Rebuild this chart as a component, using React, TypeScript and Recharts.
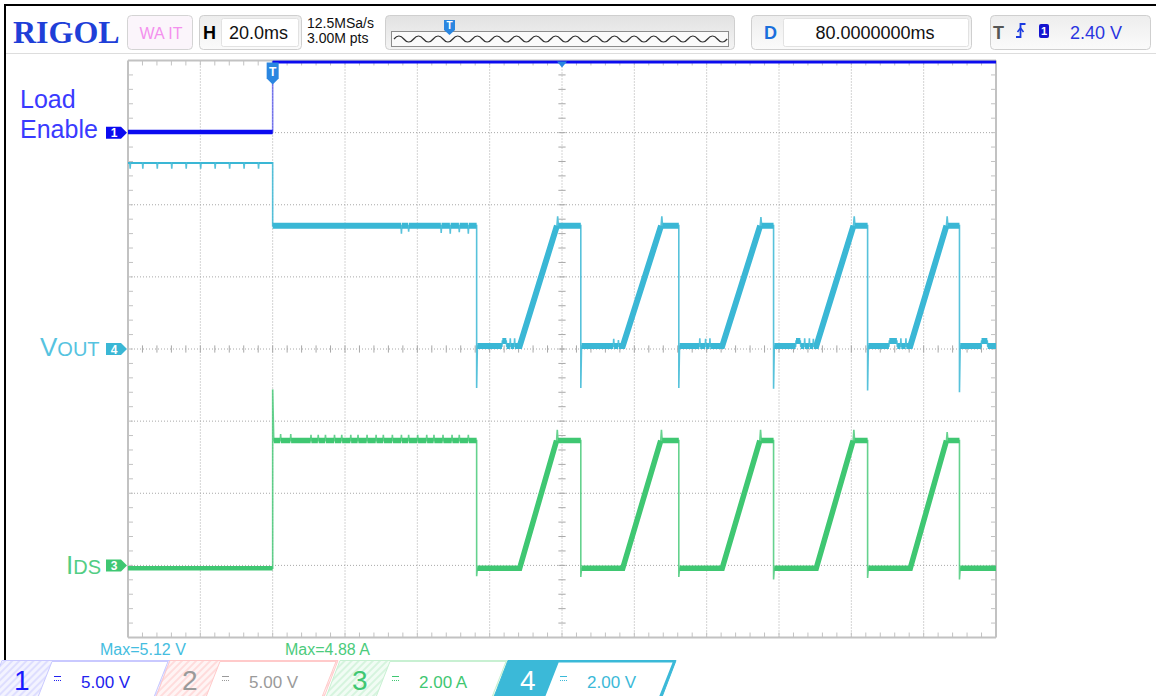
import React from 'react';
import { LineChart, Line, XAxis, YAxis, ReferenceLine, ReferenceDot } from 'recharts';

type Pt = [number, number];

// horizontal: ms from the trigger, 20 ms/div, 12 divisions
const timeDivs = [-40, -20, 0, 20, 40, 60, 80, 100, 120, 140, 160, 180, 200];
// vertical: screen divisions
const screenDivs = [-4, -3, -2, -1, 0, 1, 2, 3, 4];

// CH1 Load Enable, volts (5 V/div)
const loadEnable: Pt[] = [[-40, 0.05], [0, 0.05], [0, 4.9], [200, 4.9]];

// CH4 Vout, volts (2 V/div)
const vout: Pt[] = [
  [-40, 5.16],
  [-39.5, 5.16], [-39.4, 5.0], [-39.3, 5.16],
  [-36, 5.16], [-35.9, 5.0], [-35.8, 5.16],
  [-32, 5.16], [-31.9, 5.0], [-31.8, 5.16],
  [-28, 5.16], [-27.9, 5.0], [-27.8, 5.16],
  [-24, 5.16], [-23.9, 5.0], [-23.8, 5.16],
  [-20, 5.16], [-19.9, 5.0], [-19.8, 5.16],
  [-16, 5.16], [-15.9, 5.0], [-15.8, 5.16],
  [-12, 5.16], [-11.9, 5.0], [-11.8, 5.16],
  [-8, 5.16], [-7.9, 5.0], [-7.8, 5.16],
  [-4, 5.16], [-3.9, 5.0], [-3.8, 5.16],
  [0, 5.16], [0, 3.42],
  [35.5, 3.42], [35.6, 3.2], [35.7, 3.42],
  [37.5, 3.42], [37.6, 3.25], [37.7, 3.42],
  [46.5, 3.42], [46.6, 3.22], [46.7, 3.42],
  [49, 3.42], [49.1, 3.2], [49.2, 3.42],
  [51.5, 3.42], [51.6, 3.24], [51.7, 3.42],
  [54, 3.42], [54.1, 3.2], [54.2, 3.42],
  [56.4, 3.42], [56.4, -1.08], [56.6, 0.08],
  [63.4, 0.08], [63.5, 0.22], [64.6, 0.22], [64.7, 0.08],
  [65.6, 0.08], [65.7, 0.3], [65.8, 0.08],
  [66.8, 0.08], [66.9, 0.3], [67, 0.08],
  [68.3, 0.08], [78.6, 3.42], [78.8, 3.68], [79, 3.42],
  [85.2, 3.42], [85.2, -1.08], [85.4, 0.08],
  [94.2, 0.08], [94.3, 0.28], [94.4, 0.08],
  [95.5, 0.08], [95.6, 0.25], [95.7, 0.08],
  [96.8, 0.08], [107.4, 3.42], [107.6, 3.68], [107.8, 3.42],
  [112.3, 3.42], [112.3, -1.08], [112.5, 0.08],
  [118, 0.08], [118.1, 0.3], [118.2, 0.08],
  [119.6, 0.08], [119.7, 0.28], [119.8, 0.08],
  [120.8, 0.08], [120.9, 0.3], [121, 0.08],
  [124.3, 0.08], [134.8, 3.42], [135, 3.66], [135.2, 3.42],
  [138.5, 3.42], [138.5, -1.1], [138.7, 0.08],
  [144.6, 0.08], [144.7, 0.22], [145.9, 0.22], [146, 0.08],
  [147, 0.08], [147.1, 0.3], [147.2, 0.08],
  [148.3, 0.08], [148.4, 0.3], [148.5, 0.08],
  [149.4, 0.08], [149.5, 0.28], [149.6, 0.08],
  [150.3, 0.08], [160.6, 3.42], [160.8, 3.68], [161, 3.42],
  [164.5, 3.42], [164.5, -1.15], [164.7, 0.08],
  [170.4, 0.08], [170.5, 0.22], [172.6, 0.22], [172.7, 0.08],
  [173.6, 0.08], [173.7, 0.3], [173.8, 0.08],
  [175, 0.08], [175.1, 0.3], [175.2, 0.08],
  [176.3, 0.08], [186.3, 3.42], [186.5, 3.68], [186.7, 3.42],
  [189.9, 3.42], [189.9, -1.2], [190.1, 0.08],
  [195.9, 0.08], [196, 0.22], [197.6, 0.22], [197.7, 0.08],
  [200, 0.08],
];

// CH3 Ids, amps (2 A/div)
const ids: Pt[] = [
  [-40, -0.08], [0, -0.08], [0, 4.88], [0.3, 3.46],
  [2.1, 3.46], [2.2, 3.64], [2.3, 3.46],
  [4.9, 3.46], [5.0, 3.64], [5.1, 3.46],
  [10.5, 3.46], [10.6, 3.62], [10.7, 3.46],
  [12.5, 3.46], [12.6, 3.62], [12.7, 3.46],
  [14.5, 3.46], [14.6, 3.62], [14.7, 3.46],
  [17, 3.46], [17.1, 3.62], [17.2, 3.46],
  [19, 3.46], [19.1, 3.62], [19.2, 3.46],
  [21.5, 3.46], [21.6, 3.62], [21.7, 3.46],
  [23.5, 3.46], [23.6, 3.62], [23.7, 3.46],
  [26, 3.46], [26.1, 3.62], [26.2, 3.46],
  [28.5, 3.46], [28.6, 3.62], [28.7, 3.46],
  [30.5, 3.46], [30.6, 3.62], [30.7, 3.46],
  [33, 3.46], [33.1, 3.62], [33.2, 3.46],
  [35.5, 3.46], [35.6, 3.62], [35.7, 3.46],
  [37.5, 3.46], [37.6, 3.62], [37.7, 3.46],
  [40, 3.46], [40.1, 3.62], [40.2, 3.46],
  [42.5, 3.46], [42.6, 3.62], [42.7, 3.46],
  [44.5, 3.46], [44.6, 3.62], [44.7, 3.46],
  [47, 3.46], [47.1, 3.62], [47.2, 3.46],
  [49.5, 3.46], [49.6, 3.62], [49.7, 3.46],
  [51.5, 3.46], [51.6, 3.62], [51.7, 3.46],
  [54, 3.46], [54.1, 3.62], [54.2, 3.46],
  [56.4, 3.46], [56.4, -0.3], [56.6, -0.08],
  [68.3, -0.08], [78.5, 3.46], [78.7, 3.76], [78.9, 3.46],
  [85.2, 3.46], [85.2, -0.32], [85.4, -0.08],
  [96.8, -0.08], [107.3, 3.46], [107.5, 3.76], [107.7, 3.46],
  [112.3, 3.46], [112.3, -0.32], [112.5, -0.08],
  [124.3, -0.08], [134.7, 3.46], [134.9, 3.76], [135.1, 3.46],
  [138.5, 3.46], [138.5, -0.39], [138.7, -0.08],
  [150.3, -0.08], [160.5, 3.46], [160.7, 3.76], [160.9, 3.46],
  [164.5, 3.46], [164.5, -0.35], [164.7, -0.08],
  [176.3, -0.08], [186.3, 3.46], [186.5, 3.7], [186.7, 3.46],
  [189.9, 3.46], [189.9, -0.39], [190.1, -0.08],
  [200, -0.08],
];

const W = 1156;
const H = 696;
const sans = 'Liberation Sans, Arial, Helvetica, sans-serif';
const gridGray = '#a8a8a8';
const frameGray = '#c2c2c2';

interface Channel {
  id: string;
  tag: string;
  trace: Pt[];
  perDiv: number;
  groundDiv: number;
  color: string;
  thinOpacity: number;
  preWidth: number;
  postWidth: number;
}

const channels: Channel[] = [
  { id: 'ch4', tag: '4', trace: vout, perDiv: 2, groundDiv: 0, color: '#3ab7d5', thinOpacity: 0.85, preWidth: 2, postWidth: 6 },
  { id: 'ch3', tag: '3', trace: ids, perDiv: 2, groundDiv: -3, color: '#3fc772', thinOpacity: 0.8, preWidth: 4.5, postWidth: 5.5 },
  { id: 'ch1', tag: '1', trace: loadEnable, perDiv: 5, groundDiv: 3, color: '#0b0bf0', thinOpacity: 0.5, preWidth: 4.5, postWidth: 3.2 },
];

const domainOf = (c: Channel): [number, number] => [(-4 - c.groundDiv) * c.perDiv, (4 - c.groundDiv) * c.perDiv];

// the trace as drawn by the scope: flat / ramp parts are thick, fast edges are thin
function solidParts(trace: Pt[], perDiv: number, from: number, to: number) {
  const out: { t: number; v: number | null }[] = [];
  let prev: Pt | null = null;
  for (const p of trace) {
    if (p[0] < from || p[0] > to) continue;
    if (prev) {
      const dt = (p[0] - prev[0]) / 20;
      const dv = Math.abs(p[1] - prev[1]) / perDiv;
      if (dt === 0 || dv / dt > 6) out.push({ t: (p[0] + prev[0]) / 2, v: null });
    }
    out.push({ t: p[0], v: p[1] });
    prev = p;
  }
  return out;
}

const minorT: number[] = [];
for (let t = -36; t < 200; t += 4) minorT.push(t);
const minorD: number[] = [];
for (let d = -3.8; d < 3.9; d += 0.2) minorD.push(Math.round(d * 10) / 10);

const tagShape = (label: string, color: string) => (p: any) => (
  <g>
    <path d={`M${p.cx - 22},${p.cy - 6} h15 l6,6 l-6,6 h-15 z`} fill={color} />
    <text x={p.cx - 14} y={p.cy + 4.5} textAnchor="middle" fontSize={12} fontWeight="bold" fill="#fff" fontFamily={sans}>
      {label}
    </text>
  </g>
);

const triggerShape = (p: any) => (
  <g>
    <path d={`M${p.cx - 6},${p.cy + 2} h12 v16 l-6,6 l-6,-6 z`} fill="#2a86e0" />
    <text x={p.cx} y={p.cy + 15} textAnchor="middle" fontSize={12} fontWeight="bold" fill="#fff" fontFamily={sans}>
      T
    </text>
  </g>
);

const positionShape = (p: any) => <path d={`M${p.cx - 5},${p.cy + 1} h10 l-5,6 z`} fill="#2a86e0" />;

function zigzag() {
  let d = 'M394,39';
  for (let i = 0; i < 34; i++) d += i === 0 ? ' q4.9,-6 9.8,0' : ' t9.8,0';
  return d;
}

const tabs = [
  { a: 2, fill: 'url(#hatchBlue)', border: '#c9c9ff', digit: '1', digitColor: '#1a1aff', value: '5.00 V', valueColor: '#2222ee' },
  { a: 170, fill: 'url(#hatchRed)', border: '#ffcaca', digit: '2', digitColor: '#9a9a9a', value: '5.00 V', valueColor: '#9a9a9a' },
  { a: 340, fill: 'url(#hatchGreen)', border: '#c8f0d2', digit: '3', digitColor: '#3fc772', value: '2.00 A', valueColor: '#3fc772' },
  { a: 508, fill: '#3bb9d8', border: '#3bb9d8', digit: '4', digitColor: '#ffffff', value: '2.00 V', valueColor: '#3bb9d8' },
];

const hatch = (id: string, bg: string, fg: string) => (
  <pattern id={id} width={5} height={5} patternUnits="userSpaceOnUse" patternTransform="rotate(45)">
    <rect width={5} height={5} fill={bg} />
    <rect width={2} height={5} fill={fg} />
  </pattern>
);

const Chrome = () => (
  <svg width={W} height={H} style={{ position: 'absolute', left: 0, top: 0 }}>
    <defs>
      <linearGradient id="boxFill" x1="0" y1="0" x2="0" y2="1">
        <stop offset="0" stopColor="#ededed" />
        <stop offset="1" stopColor="#fbfbfb" />
      </linearGradient>
      <linearGradient id="barFill" x1="0" y1="0" x2="0" y2="1">
        <stop offset="0" stopColor="#e2e2e2" />
        <stop offset="1" stopColor="#f4f4f4" />
      </linearGradient>
      {hatch('hatchBlue', '#f3f3ff', '#dedeff')}
      {hatch('hatchRed', '#fff4f4', '#ffdcdc')}
      {hatch('hatchGreen', '#f1fcf4', '#d6f4de')}
    </defs>
    <rect width={W} height={H} fill="#fff" />
    <path d="M5,696 V5 H1156" fill="none" stroke="#000" strokeWidth={2} />
    <line x1={6} y1={53.5} x2={W} y2={53.5} stroke="#dddddd" />

    <text x={13} y={43} fontFamily="Liberation Serif, Times New Roman, serif" fontWeight="bold" fontSize={32} fill="#1f3fd8">
      RIGOL
    </text>

    <rect x={127.5} y={15.5} width={65} height={34} rx={4} fill="#fbf5fb" stroke="#d4d4d4" />
    <text x={161} y={39} textAnchor="middle" fontFamily={sans} fontSize={16} fill="#f490ee">WA IT</text>

    <rect x={199.5} y={15.5} width={102} height={34} rx={4} fill="url(#boxFill)" stroke="#cfcfcf" />
    <text x={203} y={39} fontFamily={sans} fontWeight="bold" fontSize={18} fill="#000">H</text>
    <rect x={221.5} y={18.5} width={77} height={28} rx={2} fill="#fff" stroke="#e2e2e2" />
    <text x={229} y={39} fontFamily={sans} fontSize={18} fill="#111">20.0ms</text>

    <text x={307} y={28} fontFamily={sans} fontSize={14} fill="#111">12.5MSa/s</text>
    <text x={307} y={43} fontFamily={sans} fontSize={14} fill="#111">3.00M pts</text>

    <rect x={385.5} y={15.5} width={349} height={34} rx={4} fill="url(#barFill)" stroke="#cfcfcf" />
    <rect x={391.5} y={31.5} width={337} height={15} fill="#fafafa" stroke="#8c8c8c" />
    <path d={zigzag()} fill="none" stroke="#333" strokeWidth={1.2} />
    <path d="M444,20 h11 v10 l-5.5,5 l-5.5,-5 z" fill="#2a86e0" />
    <text x={449.5} y={29} textAnchor="middle" fontFamily={sans} fontWeight="bold" fontSize={10} fill="#fff">T</text>

    <rect x={751.5} y={15.5} width={220} height={34} rx={4} fill="url(#boxFill)" stroke="#cfcfcf" />
    <text x={764} y={39} fontFamily={sans} fontWeight="bold" fontSize={18} fill="#1a6fdc">D</text>
    <rect x={783.5} y={18.5} width={185} height={28} rx={2} fill="#fff" stroke="#e2e2e2" />
    <text x={875} y={39} textAnchor="middle" fontFamily={sans} fontSize={18} fill="#111">80.0000000ms</text>

    <rect x={990.5} y={15.5} width={160} height={34} rx={4} fill="url(#boxFill)" stroke="#cfcfcf" />
    <text x={993} y={39} fontFamily={sans} fontWeight="bold" fontSize={18} fill="#555">T</text>
    <path d="M1016,37 h4.5 v-13 h5" fill="none" stroke="#1a3ae0" strokeWidth={1.8} />
    <path d="M1017.5,32 l3,-4 l3,4" fill="none" stroke="#1a3ae0" strokeWidth={1.6} />
    <rect x={1039} y={24} width={10} height={14} rx={2} fill="#1414d0" />
    <text x={1044} y={35} textAnchor="middle" fontFamily={sans} fontWeight="bold" fontSize={11} fill="#fff">1</text>
    <text x={1070} y={39} fontFamily={sans} fontSize={18} fill="#2a35e0">2.40 V</text>

    <text x={20} y={108} fontFamily={sans} fontSize={25} fill="#3a3aff">Load</text>
    <text x={20} y={138} fontFamily={sans} fontSize={25} fill="#3a3aff">Enable</text>
    <text x={40} y={356} fontFamily={sans} fill="#56c3e0">
      <tspan fontSize={26}>V</tspan>
      <tspan fontSize={20}>OUT</tspan>
    </text>
    <text x={66} y={574} fontFamily={sans} fill="#52cd84">
      <tspan fontSize={26}>I</tspan>
      <tspan fontSize={20}>DS</tspan>
    </text>

    <text x={100} y={655} fontFamily={sans} fontSize={16} fill="#44bde0">Max=5.12 V</text>
    <text x={285} y={655} fontFamily={sans} fontSize={16} fill="#4ccb7c">Max=4.88 A</text>

    {tabs.map((b) => (
      <g key={b.digit}>
        <path d={`M${b.a},660.5 H${b.a + 168} L${b.a + 154},697 H${b.a - 14} Z`} fill={b.fill} stroke={b.border} />
        <path
          d={`M${b.a + 50},661.5 H${b.a + 166} L${b.a + 152},697 H${b.a + 36} Z`}
          fill="#fff"
          stroke={b.border}
          strokeWidth={b.digit === '4' ? 2 : 1}
        />
        <text x={b.a + 12} y={690} fontFamily={sans} fontSize={28} fill={b.digitColor}>{b.digit}</text>
        <line x1={b.a + 52} y1={676.5} x2={b.a + 59} y2={676.5} stroke={b.valueColor} />
        <line x1={b.a + 52} y1={680.5} x2={b.a + 59} y2={680.5} stroke={b.valueColor} strokeDasharray="1 1" />
        <text x={b.a + 79} y={688} fontFamily={sans} fontSize={17} fill={b.valueColor}>{b.value}</text>
      </g>
    ))}
  </svg>
);

export default function App() {
  const tickLen = 1.38; // ms for 5 px
  const tickLenV = 0.069; // div for 5 px
  return (
    <div style={{ position: 'relative', width: W, height: H, overflow: 'hidden', background: '#fff' }}>
      <style>{'body{margin:0}'}</style>
      <Chrome />
      <div style={{ position: 'absolute', left: 0, top: 0 }}>
        <LineChart width={W} height={H} margin={{ top: 60.5, right: 160, bottom: 58.5, left: 128 }}>
          <XAxis type="number" dataKey="t" domain={[-40, 200]} ticks={timeDivs} allowDataOverflow hide />
          <YAxis yAxisId="div" type="number" domain={[-4, 4]} ticks={screenDivs} allowDataOverflow hide />
          {channels.map((c) => (
            <YAxis key={c.id} yAxisId={c.id} type="number" domain={domainOf(c)} allowDataOverflow hide />
          ))}

          {timeDivs.slice(1, -1).map((t) => (
            <ReferenceLine key={`gx${t}`} x={t} yAxisId="div" stroke={gridGray} strokeDasharray="1 2" />
          ))}
          {screenDivs.slice(1, -1).map((d) => (
            <ReferenceLine key={`gy${d}`} y={d} yAxisId="div" stroke={gridGray} strokeDasharray="1 2" />
          ))}

          {minorT.map((t) => (
            <ReferenceLine key={`tt${t}`} yAxisId="div" stroke={frameGray} segment={[{ x: t, y: 4 }, { x: t, y: 4 - tickLenV }]} />
          ))}
          {minorT.map((t) => (
            <ReferenceLine key={`tb${t}`} yAxisId="div" stroke={frameGray} segment={[{ x: t, y: -4 }, { x: t, y: -4 + tickLenV }]} />
          ))}
          {minorT.map((t) => (
            <ReferenceLine key={`tc${t}`} yAxisId="div" stroke={gridGray} segment={[{ x: t, y: -0.05 }, { x: t, y: 0.05 }]} />
          ))}
          {minorD.map((d) => (
            <ReferenceLine key={`tl${d}`} yAxisId="div" stroke={frameGray} segment={[{ x: -40, y: d }, { x: -40 + tickLen, y: d }]} />
          ))}
          {minorD.map((d) => (
            <ReferenceLine key={`tr${d}`} yAxisId="div" stroke={frameGray} segment={[{ x: 200, y: d }, { x: 200 - tickLen, y: d }]} />
          ))}
          {minorD.map((d) => (
            <ReferenceLine key={`tm${d}`} yAxisId="div" stroke={gridGray} segment={[{ x: 79, y: d }, { x: 81, y: d }]} />
          ))}

          <ReferenceLine x={-40} yAxisId="div" stroke={frameGray} strokeWidth={2} />
          <ReferenceLine x={200} yAxisId="div" stroke={frameGray} strokeWidth={2} />
          <ReferenceLine y={4} yAxisId="div" stroke={frameGray} strokeWidth={2} />
          <ReferenceLine y={-4} yAxisId="div" stroke={frameGray} strokeWidth={2} />

          {channels.flatMap((c) => [
            <Line
              key={`${c.id}-thin`}
              data={c.trace.map(([t, v]) => ({ t, v }))}
              dataKey="v"
              yAxisId={c.id}
              type="linear"
              stroke={c.color}
              strokeOpacity={c.thinOpacity}
              strokeWidth={1.6}
              dot={false}
              activeDot={false}
              isAnimationActive={false}
            />,
            <Line
              key={`${c.id}-pre`}
              data={solidParts(c.trace, c.perDiv, -40, 0)}
              dataKey="v"
              yAxisId={c.id}
              type="linear"
              stroke={c.color}
              strokeWidth={c.preWidth}
              dot={false}
              activeDot={false}
              isAnimationActive={false}
            />,
            <Line
              key={`${c.id}-post`}
              data={solidParts(c.trace, c.perDiv, 0, 200)}
              dataKey="v"
              yAxisId={c.id}
              type="linear"
              stroke={c.color}
              strokeWidth={c.postWidth}
              dot={false}
              activeDot={false}
              isAnimationActive={false}
            />,
          ])}

          {channels.map((c) => (
            <ReferenceDot key={`tag${c.id}`} x={-40} y={0} yAxisId={c.id} ifOverflow="visible" shape={tagShape(c.tag, c.color)} />
          ))}
          <ReferenceDot x={0} y={4} yAxisId="div" ifOverflow="visible" shape={triggerShape} />
          <ReferenceDot x={80} y={4} yAxisId="div" ifOverflow="visible" shape={positionShape} />
        </LineChart>
      </div>
    </div>
  );
}
